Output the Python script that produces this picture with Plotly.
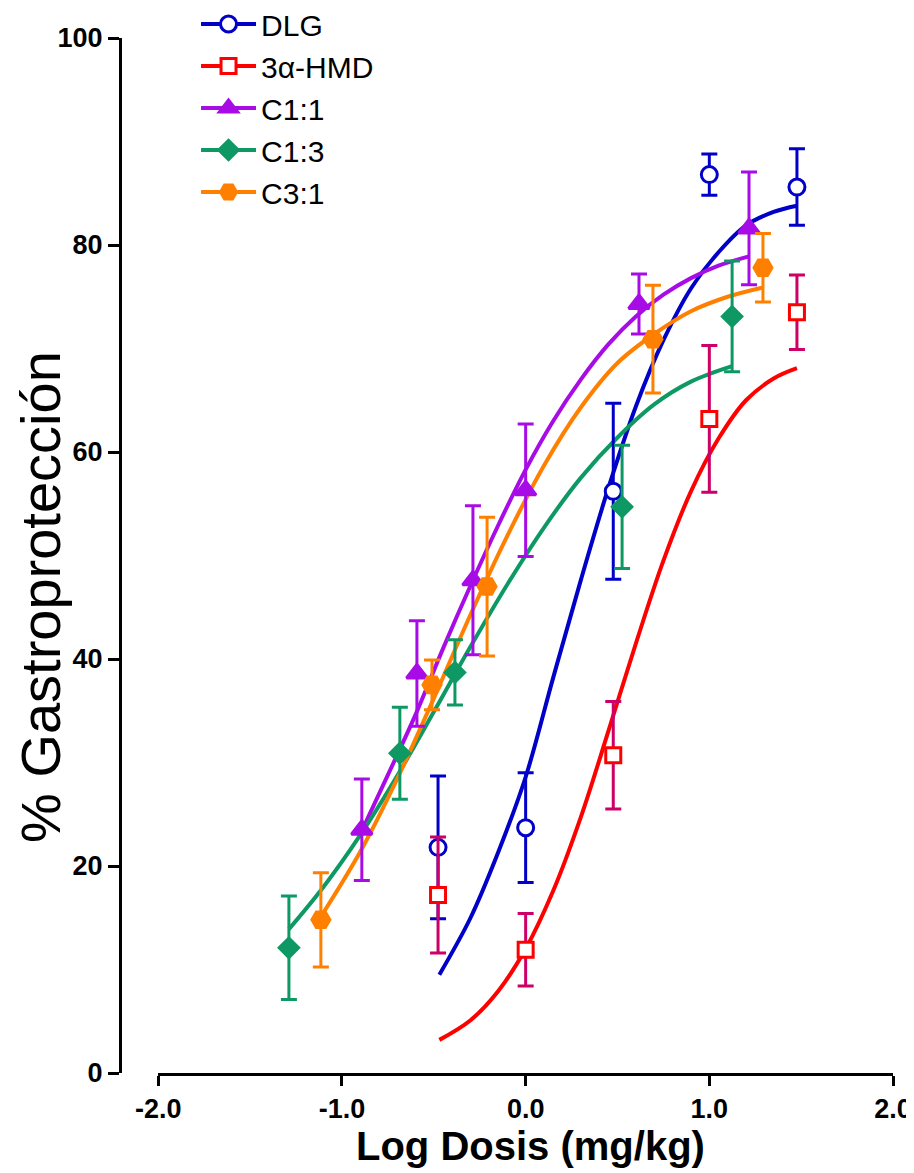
import plotly.graph_objects as go

# ---------------- data ----------------
series_names = ["DLG", "3α-HMD", "C1:1", "C1:3", "C3:1"]

dlg_x = [-0.477, 0.0, 0.477, 1.0, 1.477]
dlg_y = [21.8, 23.7, 56.2, 86.8, 85.6]
dlg_err = [6.9, 5.3, 8.5, 2.0, 3.7]

hmd_x = [-0.477, 0.0, 0.477, 1.0, 1.477]
hmd_y = [17.2, 11.9, 30.7, 63.2, 73.5]
hmd_err = [5.6, 3.5, 5.2, 7.1, 3.6]

c11_x = [-0.892, -0.592, -0.287, 0.0, 0.617, 1.216]
c11_y = [23.5, 38.6, 47.6, 56.3, 74.3, 81.6]
c11_err = [4.9, 5.1, 7.2, 6.4, 2.9, 5.45]

c13_x = [-1.289, -0.685, -0.385, 0.525, 1.124]
c13_y = [12.1, 30.9, 38.7, 54.7, 73.1]
c13_err = [5.0, 4.45, 3.15, 5.95, 5.35]

c31_x = [-1.115, -0.51, -0.21, 0.693, 1.292]
c31_y = [14.8, 37.5, 47.0, 70.9, 77.8]
c31_err = [4.55, 2.4, 6.7, 5.2, 3.3]

# fitted curves
dlg_fit_x = [-0.47, -0.3, -0.15, 0.0, 0.15, 0.3, 0.45, 0.6, 0.75, 0.9, 1.05, 1.2, 1.35, 1.477]
dlg_fit_y = [9.5, 15.0, 21.3, 28.6, 38.2, 47.6, 56.5, 64.4, 70.8, 75.8, 79.3, 81.9, 83.2, 83.8]

hmd_fit_x = [-0.47, -0.3, -0.15, 0.0, 0.15, 0.3, 0.45, 0.6, 0.75, 0.9, 1.05, 1.2, 1.35, 1.477]
hmd_fit_y = [3.2, 5.1, 7.9, 12.0, 17.6, 24.7, 33.0, 41.5, 49.5, 56.2, 61.3, 65.0, 67.1, 68.1]

c11_fit_x = [-0.892, -0.75, -0.6, -0.45, -0.3, -0.15, 0.0, 0.15, 0.3, 0.45, 0.6, 0.75, 0.9, 1.05, 1.216]
c11_fit_y = [23.4, 28.8, 34.6, 41.0, 47.1, 52.9, 58.3, 63.0, 67.0, 70.4, 73.1, 75.2, 76.8, 78.0, 78.9]

c13_fit_x = [-1.289, -1.1, -0.9, -0.7, -0.5, -0.3, -0.1, 0.1, 0.3, 0.5, 0.7, 0.9, 1.124]
c13_fit_y = [13.9, 18.0, 23.0, 28.7, 34.9, 41.2, 47.2, 52.7, 57.5, 61.4, 64.6, 66.8, 68.3]

c31_fit_x = [-1.115, -0.9, -0.7, -0.5, -0.3, -0.1, 0.1, 0.3, 0.5, 0.7, 0.9, 1.1, 1.292]
c31_fit_y = [15.1, 21.4, 28.4, 36.2, 44.3, 51.9, 58.7, 64.3, 68.6, 71.4, 73.6, 75.0, 75.9]

x_tick_vals = [-2, -1, 0, 1, 2]
x_tick_text = ["-2.0", "-1.0", "0.0", "1.0", "2.0"]
y_tick_vals = [0, 20, 40, 60, 80, 100]
y_tick_text = ["0", "20", "40", "60", "80", "100"]

# ---------------- styles ----------------
styles = [
    dict(color="#0000C8", fill="white", err="#0000C8", symbol="circle", size=16),
    dict(color="#FF0000", fill="white", err="#CC0066", symbol="square", size=15),
    dict(color="#A80CE6", fill="#A80CE6", err="#A80CE6", symbol="triangle-up", size=18),
    dict(color="#0E9964", fill="#0E9964", err="#0E9964", symbol="diamond", size=15),
    dict(color="#FF8000", fill="#FF8000", err="#FF8000", symbol="hexagon2", size=18),
]

points = [(dlg_x, dlg_y, dlg_err), (hmd_x, hmd_y, hmd_err), (c11_x, c11_y, c11_err),
          (c13_x, c13_y, c13_err), (c31_x, c31_y, c31_err)]
fits = [(dlg_fit_x, dlg_fit_y), (hmd_fit_x, hmd_fit_y), (c11_fit_x, c11_fit_y),
        (c13_fit_x, c13_fit_y), (c31_fit_x, c31_fit_y)]

fig = go.Figure()

for (fx, fy), st in zip(fits, styles):
    fig.add_trace(go.Scatter(x=fx, y=fy, mode="lines", line=dict(color=st["color"], width=4, shape="spline"),
                             showlegend=False, hoverinfo="skip"))

for (px, py, pe), st in zip(points, styles):
    fig.add_trace(go.Scatter(
        x=px, y=py, mode="markers",
        marker=dict(symbol=st["symbol"], size=st["size"], color=st["fill"],
                    line=dict(width=3, color=st["color"])),
        error_y=dict(type="data", array=pe, visible=True, thickness=3, width=8, color=st["err"]),
        showlegend=False, cliponaxis=False))

for name, st in zip(series_names, styles):
    fig.add_trace(go.Scatter(
        x=[None], y=[None], mode="lines+markers", name=name,
        line=dict(color=st["color"], width=4),
        marker=dict(symbol=st["symbol"], size=st["size"], color=st["fill"],
                    line=dict(width=3, color=st["color"]))))

# page body has an 8px margin, so figure coords = screen coords - 8
OFF = 8
W, H = 906, 1165
L = 120 - OFF
T = 38 - OFF
R = W - (892.7 - OFF)
B = H - (1073 - OFF)
pw = W - L - R
ph = H - T - B
xd0 = (158.3 - 120) / pw

fig.update_layout(
    width=W, height=H,
    margin=dict(l=L, r=R, t=T, b=B, autoexpand=False),
    paper_bgcolor="white", plot_bgcolor="white",
    font=dict(family="Liberation Sans, Arial, sans-serif", color="black"),
    xaxis=dict(domain=[xd0, 1], range=[-2, 2], showgrid=False, zeroline=False,
               showline=True, linecolor="black", linewidth=3,
               ticks="outside", ticklen=10, tickwidth=3, tickcolor="black",
               tickvals=x_tick_vals, ticktext=x_tick_text, automargin=False,
               tickfont=dict(size=27, weight="bold", color="black")),
    yaxis=dict(anchor="free", position=0, range=[0, 100], showgrid=False, zeroline=False,
               showline=True, linecolor="black", linewidth=3,
               ticks="outside", ticklen=11, tickwidth=3, tickcolor="black",
               tickvals=y_tick_vals, ticktext=y_tick_text, automargin=False,
               tickfont=dict(size=27, weight="bold", color="black")),
    legend=dict(x=(196 - 120) / pw, y=1 + (T + 10) / ph, xanchor="left", yanchor="top",
                bgcolor="rgba(0,0,0,0)", font=dict(size=30, color="black"),
                itemwidth=55, tracegroupgap=0),
    annotations=[
        dict(text="Log Dosis (mg/kg)", xref="paper", yref="paper",
             x=(530 - 120) / pw, y=-(1146 - 1073) / ph, xanchor="center", yanchor="middle",
             showarrow=False, font=dict(size=40, weight="bold", color="black")),
        dict(text="% Gastroprotección", xref="paper", yref="paper",
             x=-(120 - 40) / pw, y=1 - (597 - 38) / ph, xanchor="center", yanchor="middle",
             textangle=-90, showarrow=False, font=dict(size=56, color="black")),
    ],
)

fig.write_html("out.html")
